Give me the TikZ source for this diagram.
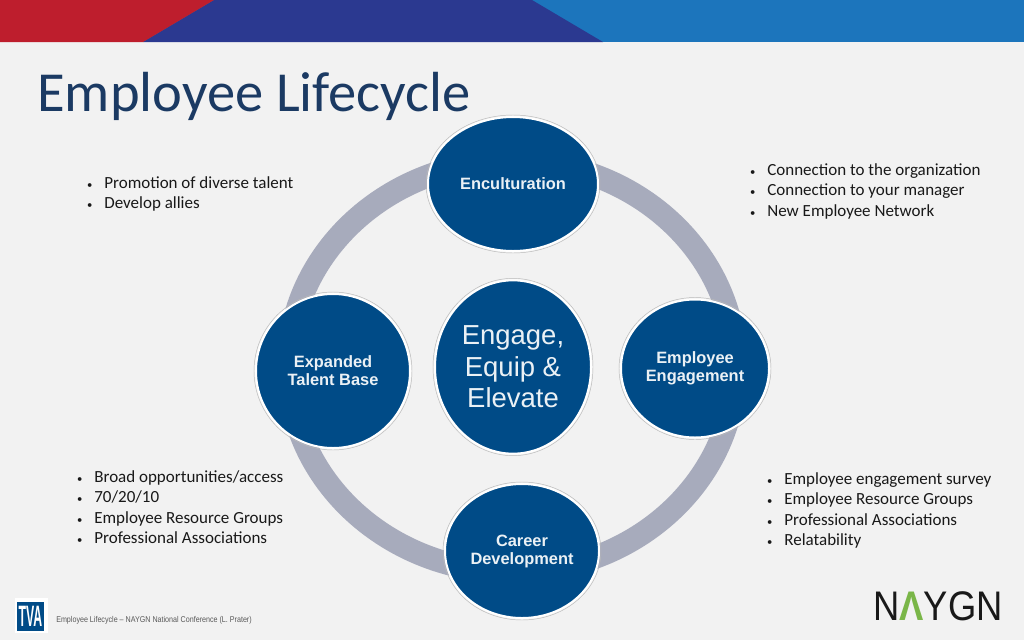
\documentclass[tikz,border=0pt]{standalone}
\usepackage{fontspec}
\setmainfont{Carlito}
\newfontfamily\labelfont{Liberation Sans}
\usetikzlibrary{shapes.geometric}
\definecolor{slidegray}{HTML}{F2F2F2}
\definecolor{barred}{HTML}{BE1E2D}
\definecolor{barnavy}{HTML}{2B3990}
\definecolor{barblue}{HTML}{1C75BC}
\definecolor{titleblue}{HTML}{1B3A63}
\definecolor{discblue}{HTML}{004B87}
\definecolor{ringgray}{HTML}{A7ABBC}
\definecolor{logogreen}{HTML}{7AB648}
\tikzset{
  stage/.style={shape=ellipse, fill=discblue, draw=white, line width=1.5pt, inner sep=0pt,
    align=center, text=white!92!discblue, font=\labelfont\bfseries\fontsize{12.3}{13.5}\selectfont},
  halo/.style={shape=ellipse, draw=gray!55, line width=0.35pt, inner sep=0pt},
  bullets/.style={anchor=north west, align=left, font=\fontsize{12.75}{15.25}\selectfont, text=black!90},
}
\newcommand{\itm}{\makebox[13pt][l]{\footnotesize\textbullet}}
\begin{document}
\begin{tikzpicture}[x=0.75pt, y=-0.75pt]
    \useasboundingbox (0,0) rectangle (1024,640);
    % slide and top band
    \fill[slidegray] (0,0) rectangle (1024,640);
    \fill[barblue] (0,0) rectangle (1024,42);
    \fill[barnavy] (214,0) -- (532,0) -- (603,42) -- (143,42) -- cycle;
    \fill[barred] (0,0) -- (214,0) -- (143,42) -- (0,42) -- cycle;

    \node[anchor=base west, inner sep=0pt, text=titleblue, font=\fontsize{42.4}{42}\selectfont] (title) at (37,111) {Employee Lifecycle};

    % ring behind the discs
    \draw[ringgray, line width=17.25pt] (512,366.5) ellipse [x radius=223.5, y radius=205.5];

    % discs
    \foreach \name/\cx/\cy/\rx/\ry/\txt in {
      encult/513/184/85/67/Enculturation,
      talent/333/371/77/77/{Expanded\\Talent Base},
      engage/695/368.5/74/69/{Employee\\Engagement},
      career/522/551/77/67/{Career\\Development}} {
        \node[stage, minimum width=\rx*1.5pt, minimum height=\ry*1.5pt] (\name) at (\cx,\cy) {\txt};
        \node[halo, minimum width=\rx*1.5pt+3pt, minimum height=\ry*1.5pt+3pt] (\name halo) at (\cx,\cy) {};
    };
    \node[stage, minimum width=117pt, minimum height=130pt, font=\labelfont\fontsize{20.6}{23.6}\selectfont] (core) at (513,367) {Engage,\\Equip \&\\Elevate};
    \node[halo, minimum width=120pt, minimum height=133pt] (core halo) at (513,367) {};

    % bullet lists
    \node[bullets] (promo) at (82.3,172) {\itm Promotion of diverse talent\\\itm Develop allies};
    \node[bullets] (connect) at (745.3,159) {\itm Connection to the organization\\\itm Connection to your manager\\\itm New Employee Network};
    \node[bullets] (broad) at (72.3,466) {\itm Broad opportunities/access\\\itm 70/20/10\\\itm Employee Resource Groups\\\itm Professional Associations};
    \node[bullets] (survey) at (762.3,468) {\itm Employee engagement survey\\\itm Employee Resource Groups\\\itm Professional Associations\\\itm Relatability};

    % footer
    \fill[white] (15,598) rectangle (48,633);
    \node[fill=discblue, text=white, inner sep=0pt, minimum width=20.25pt, minimum height=21.75pt, font=\labelfont\bfseries\fontsize{17}{17}\selectfont] (tva) at (30.5,616.5) {\scalebox{0.54}[1.3]{TVA}};
    \node[anchor=west, inner sep=0pt, text=black!65, font=\labelfont\fontsize{6.3}{7}\selectfont] (foot) at (56,620) {\scalebox{0.85}[1]{Employee Lifecycle \textendash{} NAYGN National Conference (L. Prater)}};
    \node[anchor=base west, inner sep=0pt, text=black!90, font=\labelfont\fontsize{31}{31}\selectfont] (naygn) at (873,620) {\scalebox{0.88}[1]{N\textcolor{logogreen}{\bfseries Λ}YGN}};
\end{tikzpicture}
\end{document}
